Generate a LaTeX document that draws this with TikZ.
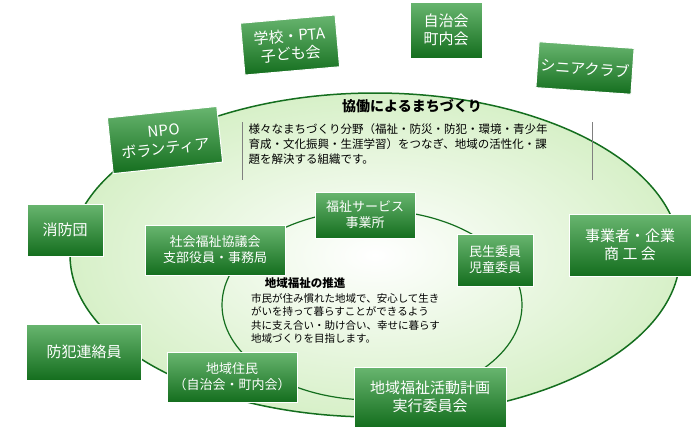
\documentclass[tikz,border=0pt]{standalone}
\usepackage{fontspec}
\setmainfont{Noto Sans CJK JP}
\usetikzlibrary{positioning}
\definecolor{dkgreen}{RGB}{20,110,30}
\definecolor{midgreen}{RGB}{40,150,50}
\definecolor{ltgreen}{RGB}{215,240,200}
\tikzset{
  gbox/.style={draw=white, line width=1pt, top color=midgreen!70!white, bottom color=dkgreen,
    text=white, align=center, inner sep=3pt, font=\fontsize{15}{18}\selectfont},
  sbox/.style={gbox, font=\fontsize{13}{16}\selectfont},
  note/.style={align=left, font=\fontsize{11.5}{15}\selectfont}
}
\begin{document}
\begin{tikzpicture}[x=1pt,y=-1pt]
  \useasboundingbox (0,0) rectangle (700,431);
  % ellipses
  \draw[dkgreen, line width=1.5pt, inner color=white, outer color=ltgreen] (375,255) ellipse (305 and 162);
  \draw[dkgreen, line width=1.2pt] (372,305) ellipse (150 and 95);

  \node[font=\bfseries\fontsize{14}{16}\selectfont] (title) at (412,106) {協働によるまちづくり};
  \node[note, anchor=north west] (outertext) at (245,120)
    {様々なまちづくり分野（福祉・防災・防犯・環境・青少年\\育成・文化振興・生涯学習）をつなぎ、地域の活性化・課\\題を解決する組織です。};
  \draw[gray] (242,122) -- (242,180);
  \draw[gray] (592,122) -- (592,180);

  \node[font=\bfseries\fontsize{11.5}{14}\selectfont] (subtitle) at (305,283) {地域福祉の推進};
  \node[note, font=\fontsize{10.5}{13.5}\selectfont, anchor=north west, inner sep=1pt] (innertext) at (250,292)
    {市民が住み慣れた地域で、安心して生き\\がいを持って暮らすことができるよう\\共に支え合い・助け合い、幸せに暮らす\\地域づくりを目指します。};

  % outer boxes
  \node[gbox, minimum width=95, minimum height=52, rotate=5] (school) at (290,45) {学校・PTA\\子ども会};
  \node[gbox, minimum width=72, minimum height=56] (jichi) at (446,30) {自治会\\町内会};
  \node[gbox, minimum width=88, minimum height=46, rotate=-4] (senior) at (585,68) {シニアクラブ};
  \node[gbox, minimum width=110, minimum height=56, rotate=6] (npo) at (165,140) {NPO\\ボランティア};
  \node[gbox, minimum width=76, minimum height=52] (shobo) at (65,230) {消防団};
  \node[gbox, minimum width=115, minimum height=56] (bohan) at (84,352) {防犯連絡員};
  \node[gbox, minimum width=122, minimum height=62] (jigyo) at (630,245) {事業者・企業\\商\ 工\ 会};
  \node[gbox, minimum width=152, minimum height=60] (keikaku) at (430,397) {地域福祉活動計画\\実行委員会};
  % inner boxes
  \node[sbox, minimum width=100, minimum height=46] (service) at (365,215) {福祉サービス\\事業所};
  \node[sbox, minimum width=140, minimum height=50] (shakyo) at (215,250) {社会福祉協議会\\支部役員・事務局};
  \node[sbox, minimum width=76, minimum height=52] (minsei) at (495,260) {民生委員\\児童委員};
  \node[sbox, minimum width=130, minimum height=50] (jumin) at (232,377) {地域住民\\（自治会・町内会）};
\end{tikzpicture}
\end{document}
